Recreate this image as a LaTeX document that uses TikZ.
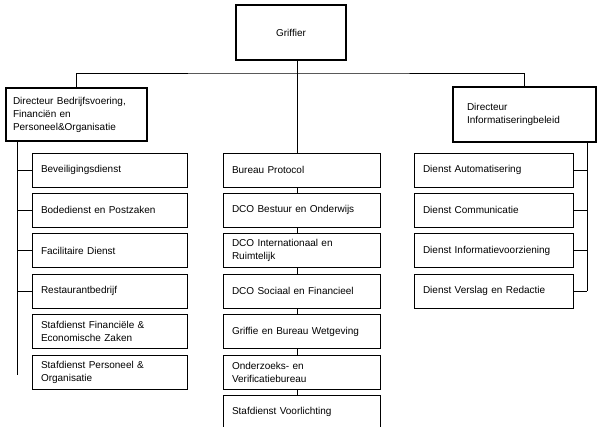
\documentclass[tikz,border=0pt]{standalone}
\usepackage{fontspec}
\setmainfont{Liberation Sans}
\usetikzlibrary{scopes,chains,positioning}

\begin{document}
\begin{tikzpicture}[
    x=1pt, y=-1pt,
    line width    = 0.8pt,
    node distance = 5.6pt,
	dn/.style  = { draw, on chain, minimum height=34pt, inner xsep=9pt, align=left,
	               font=\fontsize{10}{13}\selectfont },
	hdn/.style = { draw, line width=1.6pt, align=left, font=\fontsize{10}{13}\selectfont },
  connect line/.style = {line width = 0.8pt}
]
\useasboundingbox (0,0) rectangle (599,426);

\coordinate (lspine) at (17,0);
\coordinate (mspine) at (297,0);
\coordinate (rspine) at (587,0);
\coordinate (hbar)   at (297,73);

\node[hdn, minimum width=110pt, minimum height=55pt] (griffier) at (291,32.5) {Griffier};
\node[hdn, text width=127pt, inner xsep=7pt, minimum height=53pt] (dirbfpo) at (76.5,114.5)
  {Directeur Bedrijfsvoering,\\Financiën en\\Personeel\&Organisatie};
\node[hdn, text width=115pt, inner xsep=14pt, minimum height=55pt] (dirinfo) at (524.5,114.5)
  {Directeur\\Informatiseringbeleid};

{ [shift={(109.5,170)}, start chain=bfpo going below]
  \foreach \t in {Beveiligingsdienst, Bodedienst en Postzaken, Facilitaire Dienst,
      Restaurantbedrijf, {Stafdienst Financiële \&\\Economische Zaken},
      {Stafdienst Personeel \&\\Organisatie}}
    \node[dn, text width=137pt] {\t}; }

{ [shift={(301.5,170)}, start chain=griffie going below]
  \foreach \t in {Bureau Protocol, DCO Bestuur en Onderwijs,
      {DCO Internationaal en\\Ruimtelijk}, DCO Sociaal en Financieel,
      Griffie en Bureau Wetgeving, {Onderzoeks- en\\Verificatiebureau},
      Stafdienst Voorlichting}
    \node[dn, text width=139pt] {\t}; }

{ [shift={(493.5,170)}, start chain=info going below]
  \foreach \t in {Dienst Automatisering, Dienst Communicatie,
      Dienst Informatievoorziening, Dienst Verslag en Redactie}
    \node[dn, text width=141pt] {\t}; }

% bovenste lijnen
\draw[connect line] (dirbfpo.north) |- (hbar) -| (dirinfo.north);
\draw[connect line] (griffier.south -| mspine) -- (mspine |- griffie-1.north);
\foreach \n [count=\m from 2] in {1,...,6}
  \draw[connect line] (griffie-\n.south -| mspine) -- (griffie-\m.north -| mspine);

% linker kolom
\coordinate (lend) at ([yshift=-3pt]lspine |- bfpo-6.west);
\draw[connect line] (dirbfpo.south -| lspine) -- (lend);
\foreach \n in {1,...,4}
  \draw[connect line] (bfpo-\n.west) -- (bfpo-\n.west -| lspine);

% rechter kolom
\draw[connect line] (dirinfo.south -| rspine) -- (rspine |- info-4.east);
\foreach \n in {1,...,4}
  \draw[connect line] (info-\n.east) -- (info-\n.east -| rspine);

\end{tikzpicture}
\end{document}
